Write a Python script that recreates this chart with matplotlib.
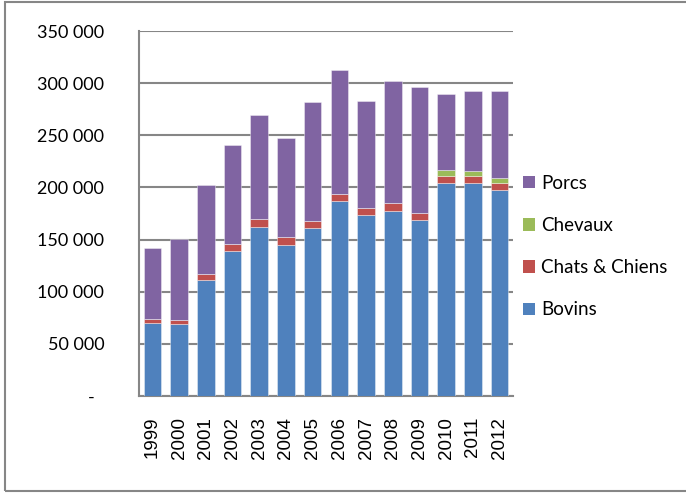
import matplotlib
matplotlib.use("Agg")
import matplotlib.pyplot as plt
import matplotlib.transforms as mtransforms
from matplotlib.patches import Rectangle
from matplotlib.ticker import FuncFormatter
import numpy as np

# données
annees = ["1999", "2000", "2001", "2002", "2003", "2004", "2005",
          "2006", "2007", "2008", "2009", "2010", "2011", "2012"]
bovins = [70300, 68700, 111200, 139300, 162400, 144800, 161400,
          186600, 173200, 177000, 168400, 203900, 203900, 197200]
chats_chiens = [3200, 4200, 5400, 6700, 7000, 7300, 6700,
                6800, 7400, 7700, 7100, 7000, 7000, 6700]
chevaux = [0, 0, 0, 0, 0, 0, 0,
           0, 0, 0, 0, 5500, 4500, 4800]
porcs = [68100, 77300, 85400, 94300, 100000, 94900, 114100,
         119200, 102200, 117600, 120500, 73500, 77000, 83400]

series = [("Bovins", bovins, "#4F81BD"),
          ("Chats & Chiens", chats_chiens, "#C0504D"),
          ("Chevaux", chevaux, "#9BBB59"),
          ("Porcs", porcs, "#8064A2")]

gris = "#868686"
police = "Lato"

fig = plt.figure(figsize=(6.86, 4.93), dpi=100)
ax = fig.add_axes([139 / 686, 1 - 396 / 493, (513 - 139) / 686, (396 - 31) / 493])

x = np.arange(len(annees))
bas = np.zeros(len(annees))
handles = []
for nom, valeurs, couleur in series:
    v = np.array(valeurs, dtype=float)
    b = ax.bar(x, v, bottom=bas, width=0.66, color=couleur, label=nom,
               edgecolor=(1, 1, 1, 0.45), linewidth=0.6, zorder=3)
    handles.append(b)
    bas += v

ax.set_xlim(-0.5, len(annees) - 0.5)
ax.set_ylim(0, 350000)
ax.set_yticks(np.arange(0, 350001, 50000))
ax.yaxis.set_major_formatter(FuncFormatter(
    lambda v, p: "-" if v == 0 else "{:,}".format(int(v)).replace(",", " ")))
ax.set_xticks(x)
ax.set_xticklabels(annees, rotation=90, fontsize=13.5, family="Liberation Sans")
for lab in ax.get_yticklabels():
    lab.set_fontfamily(police)
    lab.set_fontsize(13)

ax.tick_params(axis="both", length=0)
ax.tick_params(axis="y", pad=25)
ax.tick_params(axis="x", pad=15)

# le tiret du zéro est décalé vers la gauche (format comptable)
zero = ax.get_yticklabels()[0]
zero.set_transform(zero.get_transform() +
                   mtransforms.ScaledTranslation(-10 / 100, 0, fig.dpi_scale_trans))

ax.yaxis.grid(True, color=gris, linewidth=1.5)
ax.set_axisbelow(True)
for s in ["top", "right"]:
    ax.spines[s].set_visible(False)
for s in ["left", "bottom"]:
    ax.spines[s].set_color(gris)
    ax.spines[s].set_linewidth(1.5)

leg = fig.legend(handles[::-1], [s[0] for s in series][::-1],
                 loc="center left", bbox_to_anchor=(523 / 686, 1 - 246.5 / 493),
                 frameon=False, borderpad=0, borderaxespad=0,
                 handlelength=0.65, handleheight=0.65, handletextpad=0.3,
                 labelspacing=1.35, prop={"family": police, "size": 13.5})
for h in leg.legend_handles:
    h.set_edgecolor("none")

# cadre extérieur
fig.patches.append(Rectangle((5 / 686, 1 - 491 / 493), 1.0, 489 / 493,
                             transform=fig.transFigure, fill=False,
                             edgecolor=gris, linewidth=1.5))

fig.savefig("out.png", dpi=100)
